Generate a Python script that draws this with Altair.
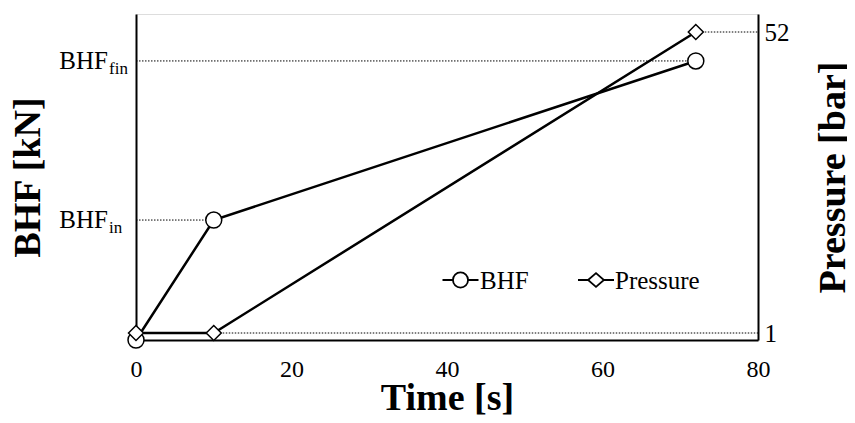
import altair as alt
import pandas as pd

# ---- data ----
series = ["BHF", "Pressure"]
bhf_time = [0, 10, 72]
bhf_val = [0, 36.8, 85.6]          # arbitrary units on a 0-100 BHF scale
p_time = [0, 10, 72]
p_val = [1, 1, 52]                 # bar

bhf_levels = [36.8, 85.6]
bhf_level_end = [10, 72]
bhf_sub = ["in", "fin"]
p_levels = [1, 52]
p_level_start = [10, 72]
x_ticks = [0, 20, 40, 60, 80]

FONT = "Liberation Serif"

bhf_df = pd.DataFrame({"t": bhf_time, "v": bhf_val})
p_df = pd.DataFrame({"t": p_time, "v": p_val})
bhf_guide_df = pd.DataFrame({"t0": [0] * len(bhf_levels), "t1": bhf_level_end, "v": bhf_levels, "sub": bhf_sub})
p_guide_df = pd.DataFrame({"t0": p_level_start, "t1": [80] * len(p_levels), "v": p_levels})

xscale = alt.Scale(domain=[0, 80], nice=False, zero=False)
bhf_scale = alt.Scale(domain=[0, 100], nice=False, zero=False)
p_scale = alt.Scale(domain=[-0.186, 55.05], nice=False, zero=False)

x_enc = alt.X("t:Q", scale=xscale, axis=alt.Axis(
    values=x_ticks, title="Time [s]", grid=False, ticks=False, domainColor="black",
    domainWidth=2, labelFont=FONT, labelFontSize=24, labelColor="black", labelPadding=17,
    labelFlush=False, titleFont=FONT, titleFontSize=38, titleFontWeight="bold",
    titleColor="black", titlePadding=-2))

bhf_axis = alt.Axis(orient="left", title="BHF [kN]", labels=False, ticks=False, grid=False,
                    domainColor="black", domainWidth=2, titleFont=FONT, titleFontSize=38,
                    titleFontWeight="bold", titleColor="black", titlePadding=89)
p_axis = alt.Axis(orient="right", title="Pressure [bar]", values=p_levels, ticks=False, grid=False,
                  domainColor="black", domainWidth=2, labelFont=FONT, labelFontSize=25,
                  labelColor="black", labelPadding=6, labelFlush=False, titleFont=FONT,
                  titleFontSize=38, titleFontWeight="bold", titleColor="black", titleAngle=270,
                  titlePadding=63)

DOT = [1.5, 1.5]

# ---- BHF (left axis) ----
bhf_guides = alt.Chart(bhf_guide_df).mark_rule(color="black", strokeWidth=1, strokeDash=DOT).encode(
    x=alt.X("t0:Q", scale=xscale), x2="t1:Q", y=alt.Y("v:Q", scale=bhf_scale, axis=bhf_axis))
bhf_main = alt.Chart(bhf_guide_df).mark_text(font=FONT, fontSize=25, align="right", baseline="middle",
                                              color="black").encode(
    x=alt.value(-28), y=alt.Y("v:Q", scale=bhf_scale), text=alt.value("BHF"))
bhf_subs = alt.Chart(bhf_guide_df).mark_text(font=FONT, fontSize=17, align="left", baseline="middle",
                                              dy=8, color="black").encode(
    x=alt.value(-27), y=alt.Y("v:Q", scale=bhf_scale), text="sub:N")
bhf_line = alt.Chart(bhf_df).mark_line(color="black", strokeWidth=2.5).encode(
    x=x_enc, y=alt.Y("v:Q", scale=bhf_scale))
bhf_pts = alt.Chart(bhf_df).mark_point(shape="circle", size=256, filled=True, fill="white",
                                       stroke="black", strokeWidth=1.5, opacity=1).encode(
    x=alt.X("t:Q", scale=xscale), y=alt.Y("v:Q", scale=bhf_scale))
left = alt.layer(bhf_guides, bhf_line, bhf_pts, bhf_main, bhf_subs)

# ---- Pressure (right axis) ----
p_guides = alt.Chart(p_guide_df).mark_rule(color="black", strokeWidth=1, strokeDash=DOT).encode(
    x=alt.X("t0:Q", scale=xscale), x2="t1:Q", y=alt.Y("v:Q", scale=p_scale, axis=p_axis))
p_line = alt.Chart(p_df).mark_line(color="black", strokeWidth=2.5).encode(
    x=alt.X("t:Q", scale=xscale), y=alt.Y("v:Q", scale=p_scale))
p_pts = alt.Chart(p_df).mark_point(shape="diamond", size=225, filled=True, fill="white",
                                   stroke="black", strokeWidth=1.5, opacity=1).encode(
    x=alt.X("t:Q", scale=xscale), y=alt.Y("v:Q", scale=p_scale))
right = alt.layer(p_guides, p_line, p_pts)

# ---- legend (drawn as marks: line-through symbol + label) ----
legend_shapes = [
    "M-1,0H-0.42M0.42,0H1M-0.42,0A0.42,0.42,0,1,0,0.42,0A0.42,0.42,0,1,0,-0.42,0Z",
    "M-1,0H-0.44M0.44,0H1M-0.44,0L0,-0.38L0.44,0L0,0.38Z",
]
legend_sym_x = [324.5, 460]
legend_txt_x = [344, 479]
legend_y = 266
legend_parts = []
for name, shp, sx, tx in zip(series, legend_shapes, legend_sym_x, legend_txt_x):
    ldf = pd.DataFrame({"series": [name]})
    legend_parts.append(alt.Chart(ldf).mark_point(shape=shp, size=1296, filled=True, fill="white",
                                                  stroke="black", strokeWidth=1.8, opacity=1).encode(
        x=alt.value(sx), y=alt.value(legend_y)))
    legend_parts.append(alt.Chart(ldf).mark_text(font=FONT, fontSize=25, align="left", baseline="middle",
                                                 dy=1, color="black").encode(
        x=alt.value(tx), y=alt.value(legend_y), text="series:N"))
legend_layer = alt.layer(*legend_parts)

chart = alt.layer(left, right, legend_layer).resolve_scale(y="independent").properties(
    width=622, height=326,
    autosize=alt.AutoSizeParams(type="none"),
    padding={"left": 128, "top": 6, "right": 89, "bottom": 80},
).configure_view(stroke=None).configure(background="white", font=FONT)

chart.save("out.html", embed_options={"renderer": "svg", "actions": False})
